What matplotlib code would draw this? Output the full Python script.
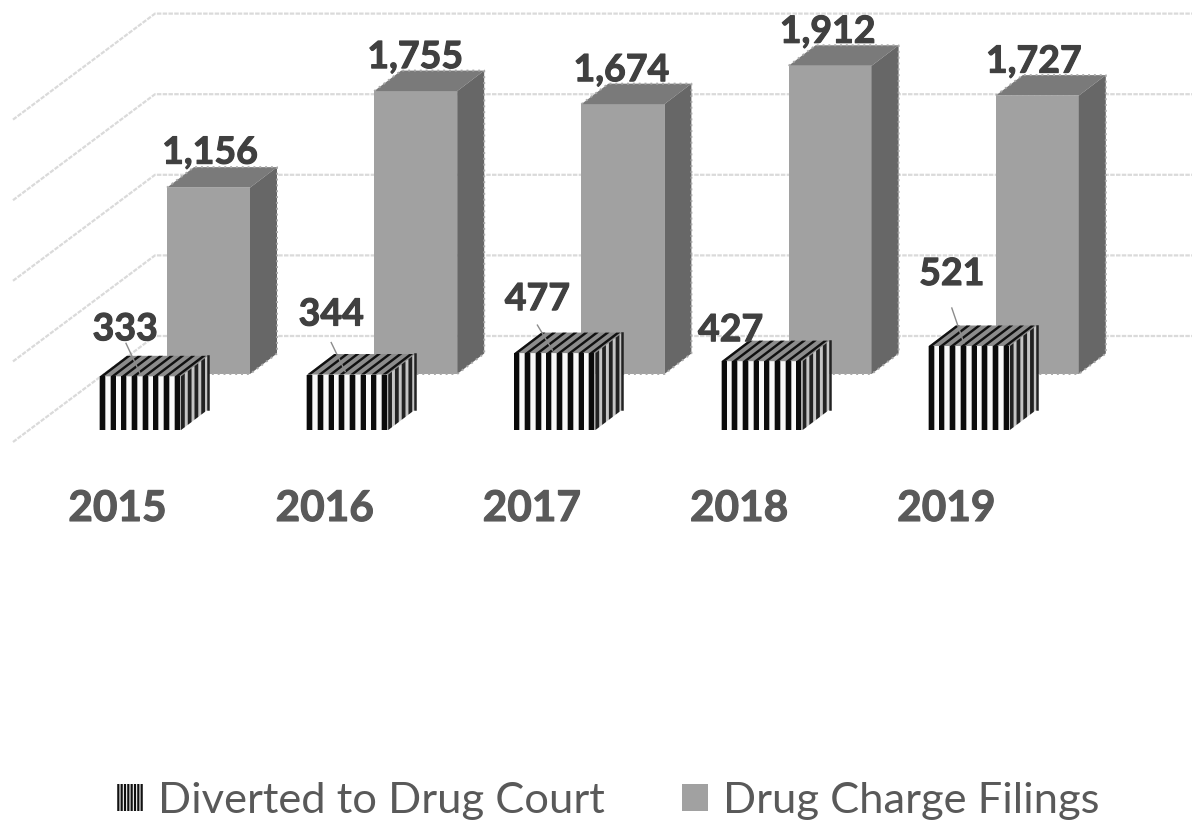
import matplotlib
matplotlib.use("Agg")
import matplotlib.pyplot as plt
import matplotlib.patheffects as pe
from matplotlib.patches import Patch
import numpy as np

plt.rcParams['font.family'] = ['Lato', 'DejaVu Sans']
plt.rcParams['hatch.linewidth'] = 1.6

years = ['2015', '2016', '2017', '2018', '2019']
diverted = [333, 344, 477, 427, 521]
filings = [1156, 1755, 1674, 1912, 1727]
grid_values = [0, 500, 1000, 1500, 2000]

W, H = 1194, 823
STEP = 207.2        # px per category
K = 0.1612          # px per value
X0, Y0 = 100, 430   # pixel of category 0, value 0 (front series)
fig = plt.figure(figsize=(W / 100, H / 100), dpi=100)
ax = fig.add_axes([0, 0, 1, 1])
ax.set_xlim(-X0 / STEP, (W - X0) / STEP)
ax.set_ylim((Y0 - H) / K, Y0 / K)
ax.axis('off')


def dx(px):
    return px / STEP


def dy(px):
    return px / K


def par(x, y, w, h, sx, sy, **kw):
    """Parallelogram helper: corner (x, y), across (w, h), along (sx, sy) in data units."""
    ax.fill([x, x + w, x + w + sx, x + sx], [y, y + h, y + h + sy, y + sy], lw=0, **kw)


# back wall and side wall gridlines
for v in grid_values:
    xs = [dx(13 - X0), dx(155 - X0), dx(1192 - X0)]
    ys = [v + dy(-12), v + dy(94), v + dy(94)]
    ax.plot(xs, ys, color='#DADADA', lw=1.6, ls=(0, (2, 0.6)), zorder=1)

BAR_W = dx(83)
SX, SY = dx(27), dy(20.5)


def solid_bar(i, v):
    x = i + dx(67)
    y = dy(56)
    ax.fill([x, x + BAR_W, x + BAR_W, x], [y, y, y + v, y + v], color='#A1A1A1', lw=0, zorder=3)
    par(x, y + v, BAR_W, 0, SX, SY, color='#7A7A7A', zorder=3)
    par(x + BAR_W, y, 0, v, SX, SY, color='#676767', zorder=3)
    ax.plot([x, x + SX, x + BAR_W + SX, x + BAR_W + SX, x + BAR_W, x],
            [y + v, y + v + SY, y + v + SY, y + SY, y, y],
            color='#A8A8A8', lw=1.4, ls=(0, (1, 2)), zorder=3.1)


def striped_bar(i, v):
    x = i
    w = dx(81)
    period = dx(10.7)
    sw = dx(5)
    halo = dx(0.8)
    ax.fill([x, x + w, x + w, x], [0, 0, v, v], color='#F8F8F8', lw=0, zorder=4)
    par(x, v, w, 0, SX, SY, color='#8C8C8C', zorder=4)
    par(x + w, 0, 0, v, SX, SY, color='#C4C4C4', zorder=4)
    for s in np.arange(0, 8) * period:
        ax.fill([x + s - halo, x + s + sw + halo, x + s + sw + halo, x + s - halo], [0, 0, v, v],
                color='#ABABAB', lw=0, zorder=4.5)
        ax.fill([x + s, x + s + sw, x + s + sw, x + s], [0, 0, v, v], color='#0A0A0A', lw=0, zorder=5)
        par(x + s, v, sw * 0.8, 0, SX, SY, color='#111111', zorder=5)
    for t in np.arange(0, 4) / 4:
        par(x + w + SX * t, SY * t, 0, v, SX * 0.14, SY * 0.14, color='#222222', zorder=5)
    ax.plot([x + w + SX, x + w + SX], [SY, v + SY], color='#222222', lw=1.8, zorder=5)


for i, v in enumerate(filings):
    solid_bar(i, v)
for i, v in enumerate(diverted):
    striped_bar(i, v)

# value labels: pixel offsets of the label centre from the top-left of each bar's front face
filing_offsets = [(43, 35), (41, 34), (40, 34), (39, 34), (38, 34)]
diverted_offsets = [(25, 47), (24, 60), (23, 54), (9, 31), (23, 72)]
leader_offsets = [((26, 33), (40, 3)), ((24, 32), (38, 3)), ((23, 28), (38, 3)),
                  None, ((23, 38), (35, 3))]
bold_fx = [pe.withStroke(linewidth=0.8, foreground='#404040')]
text_kw = dict(textcoords='offset pixels', ha='center', va='center', color='#404040',
               fontsize=27, fontweight='bold', zorder=7, path_effects=bold_fx)
for i, v in enumerate(filings):
    ax.annotate(f'{v:,}', (i + dx(67), dy(56) + v), xytext=filing_offsets[i], **text_kw)
for i, v in enumerate(diverted):
    ax.annotate(f'{v:,}', (i, v), xytext=diverted_offsets[i], **text_kw)
    if leader_offsets[i]:
        (a, b), (c, d) = leader_offsets[i]
        ax.plot([i + dx(a), i + dx(c)], [v + dy(b), v + dy(d)], color='#8C8C8C', lw=1, zorder=6)

# category labels
for i, y in enumerate(years):
    ax.annotate(y, (i, 0), xytext=(17.5, -79), textcoords='offset pixels', ha='center', va='center',
                color='#595959', fontsize=30.5, fontweight='bold',
                path_effects=[pe.withStroke(linewidth=0.8, foreground='#595959')])

handles = [Patch(facecolor='white', edgecolor='#111111', hatch='|||||', lw=0, label='Diverted to Drug Court'),
           Patch(facecolor='#A1A1A1', edgecolor='none', label='Drug Charge Filings')]
leg = fig.legend(handles=handles, loc='center', bbox_to_anchor=(608.5 / W, 1 - 801 / H), ncol=2, frameon=False,
                 fontsize=31.3, labelcolor='#595959', handlelength=0.6, handleheight=0.6,
                 handletextpad=0.34, columnspacing=1.78, borderaxespad=0, borderpad=0)

fig.savefig('out.png', dpi=100)
